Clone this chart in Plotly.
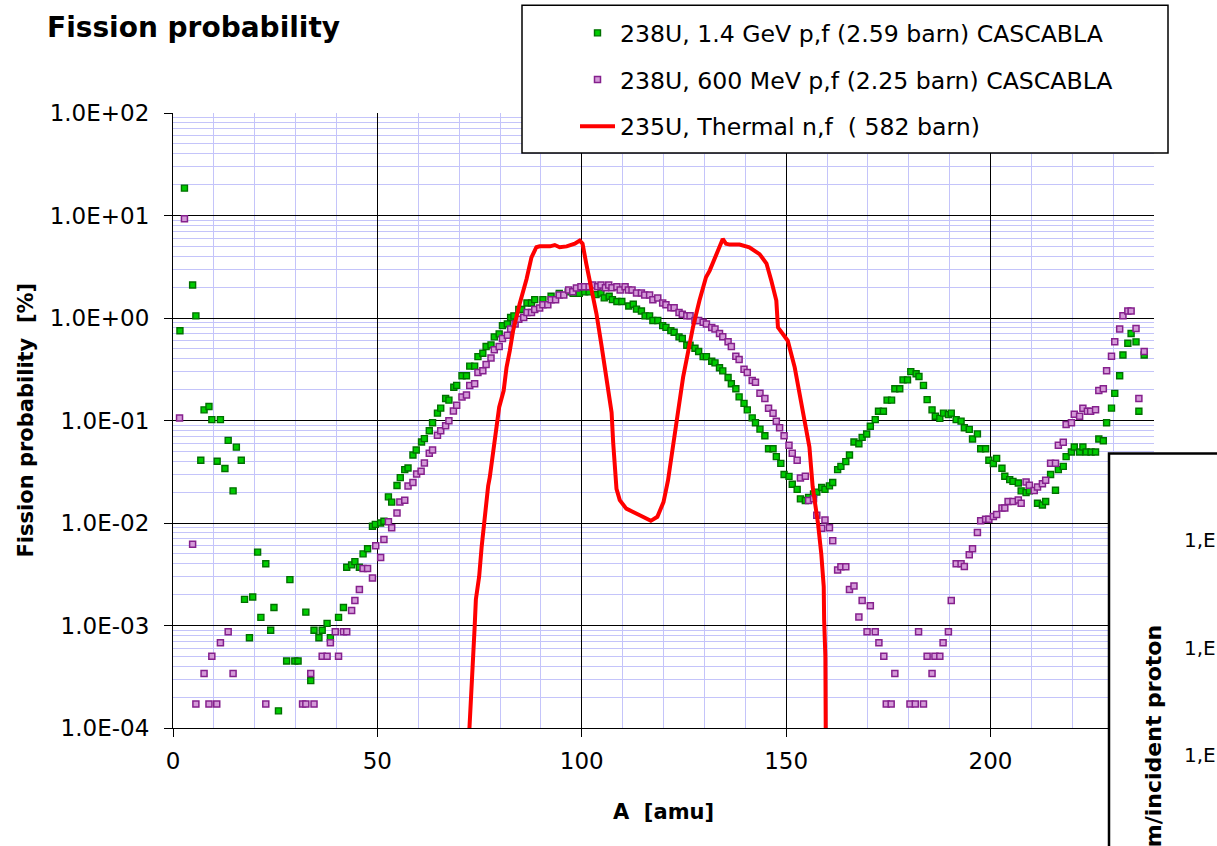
import plotly.graph_objects as go

# ---------------- data ----------------
a_14 = [1.7, 2.8, 4.8, 5.6, 6.8, 7.6, 8.8, 9.5, 10.8, 11.6, 12.7, 13.5, 14.7, 15.5, 16.7, 17.5, 18.7, 19.5,
        20.7, 21.5, 22.7, 23.9, 24.7, 25.8, 27.8, 28.6, 29.8, 30.6, 32.5, 33.7, 34.5, 35.7, 36.5, 37.7, 38.5,
        40.5, 41.7, 42.5, 43.7, 44.5, 45.6, 46.5, 47.6, 48.8, 49.5, 50.8, 51.6, 52.7, 53.5, 54.8, 55.6, 56.7,
        57.5, 58.7, 59.5, 60.8, 61.5, 62.7, 63.5, 64.7, 65.5, 66.7, 67.5, 68.7, 69.4, 70.7, 71.8, 72.6, 73.8,
        74.6, 75.8, 76.6, 77.8, 78.6, 79.8, 80.6, 81.8, 82.6, 83.4, 84.6, 85.3, 86.6, 87.7, 88.5, 90.5, 92.5,
        94.5, 96.7, 97.9, 99.4, 100.7, 101.8, 103.5, 104.7, 105.5, 106.7, 107.5, 108.6, 109.8, 111.5, 112.6,
        113.4, 114.6, 115.5, 116.6, 117.4, 118.6, 119.8, 120.6, 121.8, 122.6, 123.8, 124.6, 125.7, 126.5,
        127.7, 128.6, 129.7, 130.5, 131.8, 132.6, 133.7, 134.5, 135.8, 136.6, 137.7, 138.5, 139.7, 140.5,
        141.7, 142.5, 143.6, 144.8, 145.7, 146.8, 147.6, 148.7, 149.5, 150.7, 151.5, 152.7, 153.5, 154.7,
        155.5, 156.7, 157.5, 158.7, 159.5, 160.6, 161.4, 162.6, 163.4, 164.6, 165.5, 166.6, 167.8, 168.6,
        169.7, 170.6, 171.8, 172.6, 173.8, 174.7, 175.8, 176.6, 177.8, 178.6, 179.7, 180.5, 181.8, 182.5,
        183.6, 184.5, 185.7, 186.5, 187.6, 188.5, 189.7, 190.4, 191.6, 192.8, 193.6, 194.8, 195.6, 196.8,
        197.6, 198.8, 199.6, 200.7, 201.5, 202.8, 203.5, 204.7, 205.5, 206.8, 207.5, 208.7, 209.5, 211.5,
        212.7, 213.5, 214.7, 215.9, 216.6, 217.8, 218.5, 219.8, 220.5, 221.8, 222.6, 223.4, 224.6, 225.7,
        226.5, 227.6, 228.4, 229.6, 230.4, 231.6, 232.4, 233.6, 234.4, 235.6, 236.3, 237.6]
p_14 = [0.75, 18.5, 2.1, 1.05, 0.041, 0.127, 0.137, 0.102, 0.040, 0.102, 0.034, 0.064, 0.0206, 0.055, 0.041,
        0.0018, 0.00076, 0.0019, 0.0052, 0.0012, 0.0040, 0.0009, 0.0015, 0.000147, 0.00045, 0.0028, 0.00045,
        0.00045, 0.00135, 0.00029, 0.0009, 0.00076, 0.0009, 0.00105, 0.00076, 0.0012, 0.0015, 0.0037, 0.0039,
        0.0042, 0.0037, 0.0050, 0.0056, 0.0093, 0.0097, 0.0100, 0.0104, 0.018, 0.016, 0.0232, 0.0277, 0.0332,
        0.0344, 0.046, 0.0515, 0.0617, 0.0665, 0.0794, 0.095, 0.118, 0.132, 0.164, 0.158, 0.211, 0.22, 0.273,
        0.273, 0.339, 0.339, 0.42, 0.453, 0.527, 0.547, 0.655, 0.70, 0.843, 0.876, 1.01, 1.05, 1.21, 1.21,
        1.40, 1.40, 1.51, 1.51, 1.63, 1.74, 1.80, 1.74, 1.74, 1.80, 1.80, 1.69, 1.75, 1.57, 1.63, 1.51, 1.45,
        1.45, 1.31, 1.36, 1.22, 1.17, 1.05, 1.05, 0.944, 0.944, 0.843, 0.81, 0.753, 0.726, 0.655, 0.63, 0.542,
        0.542, 0.507, 0.471, 0.42, 0.42, 0.379, 0.365, 0.327, 0.305, 0.263, 0.228, 0.204, 0.17, 0.147, 0.127,
        0.106, 0.095, 0.0824, 0.071, 0.053, 0.053, 0.0444, 0.0382, 0.0297, 0.0285, 0.0239, 0.0213, 0.0172,
        0.0166, 0.0178, 0.0192, 0.020, 0.0222, 0.0213, 0.023, 0.0248, 0.0332, 0.0357, 0.0397, 0.046, 0.0617,
        0.0594, 0.0685, 0.0738, 0.088, 0.102, 0.123, 0.123, 0.158, 0.158, 0.204, 0.204, 0.249, 0.249, 0.30,
        0.286, 0.269, 0.22, 0.16, 0.127, 0.11, 0.105, 0.118, 0.114, 0.118, 0.102, 0.0986, 0.085, 0.082, 0.066,
        0.074, 0.053, 0.053, 0.041, 0.038, 0.0427, 0.0342, 0.0286, 0.0265, 0.0255, 0.0246, 0.0206, 0.0198,
        0.0206, 0.0156, 0.015, 0.0162, 0.0297, 0.0209, 0.0332, 0.0357, 0.0444, 0.0493, 0.0552, 0.0493, 0.0552,
        0.0493, 0.0493, 0.0493, 0.066, 0.0635, 0.095, 0.132, 0.184, 0.273, 0.436, 0.568, 0.705, 0.585, 0.123,
        0.436]

a_600 = [1.6, 2.8, 4.8, 5.6, 7.6, 8.8, 9.5, 10.7, 11.6, 13.5, 14.7, 22.7, 31.7, 32.5, 33.7, 34.5, 36.5, 37.7,
         38.5, 39.7, 40.5, 41.7, 42.5, 43.7, 44.5, 45.6, 46.5, 47.6, 48.8, 49.6, 50.8, 51.6, 52.7, 53.5, 54.8,
         55.5, 56.7, 57.5, 58.7, 59.6, 60.7, 61.5, 62.7, 63.5, 64.7, 65.5, 66.7, 67.5, 68.6, 69.4, 70.7, 71.8,
         72.6, 73.8, 74.6, 75.8, 76.6, 77.8, 78.6, 79.8, 80.6, 81.8, 82.6, 83.7, 84.6, 85.8, 86.6, 87.7, 88.5,
         89.7, 90.5, 91.7, 92.5, 93.6, 94.5, 95.6, 96.8, 97.8, 98.7, 99.8, 100.7, 101.8, 102.7, 103.9, 104.7,
         105.8, 106.6, 107.4, 108.6, 109.4, 110.6, 111.4, 112.3, 113.4, 114.6, 115.4, 116.6, 117.4, 118.6,
         119.8, 120.6, 121.8, 122.6, 123.8, 124.6, 125.7, 126.5, 127.7, 128.6, 129.7, 130.5, 131.8, 132.6,
         133.7, 134.5, 135.8, 136.6, 137.7, 138.5, 139.7, 140.5, 141.7, 142.5, 143.6, 144.8, 145.7, 146.8,
         147.6, 148.4, 149.5, 150.7, 151.5, 152.7, 153.5, 154.7, 155.5, 156.7, 157.5, 158.7, 159.5, 160.6,
         161.4, 162.6, 163.4, 164.6, 165.5, 166.6, 167.8, 168.6, 169.8, 170.6, 171.8, 172.7, 173.9, 174.5,
         175.7, 176.6, 180.3, 181.6, 182.4, 183.6, 184.5, 185.7, 186.4, 187.6, 188.4, 189.7, 190.4, 191.6,
         192.8, 193.6, 194.8, 195.6, 196.8, 197.6, 198.8, 199.6, 200.7, 201.5, 202.8, 203.5, 204.3, 205.5,
         206.8, 207.5, 208.7, 209.5, 210.7, 211.5, 212.7, 213.5, 214.7, 215.9, 216.6, 217.8, 218.5, 219.8,
         220.5, 221.8, 222.6, 223.7, 224.5, 225.7, 226.5, 227.6, 228.4, 229.6, 230.4, 231.6, 232.4, 233.6,
         234.4, 235.6, 236.3, 237.6]
p_600 = [0.106, 9.3, 0.0062, 0.000171, 0.00034, 0.000171, 0.0005, 0.000171, 0.00068, 0.00087, 0.00034,
         0.000171, 0.000171, 0.000171, 0.00034, 0.000171, 0.0005, 0.0005, 0.00068, 0.00087, 0.0005, 0.00087,
         0.00087, 0.0014, 0.00175, 0.00225, 0.0036, 0.0036, 0.0029, 0.006, 0.0046, 0.0069, 0.0103, 0.009,
         0.0125, 0.016, 0.0167, 0.023, 0.0248, 0.030, 0.032, 0.0385, 0.048, 0.0515, 0.0716, 0.0795, 0.089,
         0.0995, 0.124, 0.141, 0.17, 0.177, 0.22, 0.228, 0.294, 0.305, 0.352, 0.408, 0.489, 0.527, 0.63, 0.68,
         0.783, 0.876, 0.97, 1.01, 1.13, 1.13, 1.21, 1.25, 1.35, 1.35, 1.51, 1.51, 1.68, 1.68, 1.88, 1.80,
         1.96, 2.02, 2.02, 2.02, 2.10, 2.02, 2.10, 1.97, 2.10, 1.97, 2.02, 1.88, 2.02, 1.88, 1.88, 1.75, 1.75,
         1.68, 1.68, 1.51, 1.57, 1.40, 1.35, 1.26, 1.26, 1.13, 1.09, 1.05, 1.05, 0.944, 0.944, 0.91, 0.876,
         0.81, 0.78, 0.705, 0.655, 0.585, 0.527, 0.424, 0.394, 0.316, 0.294, 0.245, 0.236, 0.184, 0.164,
         0.132, 0.118, 0.0986, 0.085, 0.0711, 0.0573, 0.048, 0.041, 0.0275, 0.0286, 0.0166, 0.0172, 0.0119,
         0.0089, 0.0107, 0.009, 0.0067, 0.00347, 0.00374, 0.00374, 0.00225, 0.00243, 0.00121, 0.00175,
         0.00087, 0.00156, 0.00087, 0.00068, 0.0005, 0.000171, 0.000171, 0.00034, 0.000171, 0.000171,
         0.00087, 0.000171, 0.0005, 0.00034, 0.0005, 0.0005, 0.00068, 0.00087, 0.00175, 0.004, 0.004,
         0.00377, 0.0049, 0.0056, 0.0081, 0.0105, 0.0109, 0.0109, 0.0116, 0.0121, 0.014, 0.014, 0.0162,
         0.0162, 0.0168, 0.0156, 0.0251, 0.0233, 0.0208, 0.0225, 0.0242, 0.0261, 0.0382, 0.0382, 0.0573,
         0.0613, 0.0916, 0.095, 0.115, 0.11, 0.132, 0.123, 0.123, 0.127, 0.196, 0.204, 0.305, 0.424, 0.585,
         0.783, 1.05, 1.17, 1.17, 0.79, 0.164, 0.471]

a_235 = [72.4, 73.0, 73.3, 73.8, 74.1, 74.9, 75.5, 76.1, 76.4, 77.1, 77.5, 78.3, 79.1, 79.8, 80.9, 81.6, 82.4,
         83.2, 84.8, 86.5, 87.7, 88.9, 89.7, 92.2, 93.4, 94.6, 96.3, 98.3, 99.5, 100.2, 101.1, 102.4, 103.6,
         104.8, 106.1, 106.8, 107.3, 107.7, 108.1, 108.5, 109.3, 110.9, 114.2, 116.9, 118.5, 120.0, 121.1,
         122.3, 123.6, 124.8, 126.0, 127.2, 128.8, 130.4, 131.3, 132.9, 134.5, 135.3, 136.2, 138.6, 141.0,
         143.5, 145.2, 146.4, 147.6, 148.0, 149.2, 150.4, 152.1, 153.3, 154.9, 155.7, 156.5, 157.8, 158.6,
         159.2, 159.3, 159.6, 159.7]
p_235 = [8.0e-5, 2.0e-4, 4.0e-4, 9.7e-4, 1.8e-3, 3.0e-3, 5.8e-3, 1.06e-2, 1.4e-2, 2.3e-2, 2.8e-2, 4.75e-2,
         0.08, 0.135, 0.196, 0.33, 0.48, 0.75, 1.37, 2.4, 3.9, 4.9, 5.0, 5.0, 5.15, 4.9, 5.0, 5.3, 5.7, 5.3,
         3.4, 1.9, 1.1, 0.55, 0.25, 0.16, 0.12, 0.06, 0.035, 0.0215, 0.0167, 0.0138, 0.0119, 0.0105, 0.0115,
         0.016, 0.026, 0.059, 0.125, 0.265, 0.48, 0.81, 1.48, 2.5, 2.9, 4.2, 5.9, 5.3, 5.2, 5.2, 4.9, 4.2, 3.4,
         2.3, 1.48, 0.81, 0.70, 0.60, 0.33, 0.18, 0.086, 0.055, 0.0225, 0.0099, 0.005, 0.0024, 0.00113,
         0.0005, 8.0e-5]

names = ["238U, 1.4 GeV p,f (2.59 barn) CASCABLA",
         "238U, 600 MeV p,f (2.25 barn) CASCABLA",
         "235U, Thermal n,f  ( 582 barn)"]

y_tickvals = [1e-4, 1e-3, 1e-2, 1e-1, 1e0, 1e1, 1e2]
y_ticktext = ["1.0E-04", "1.0E-03", "1.0E-02", "1.0E-01", "1.0E+00", "1.0E+01", "1.0E+02"]
x_tickvals = [0, 50, 100, 150, 200]

# ---------------- figure ----------------
W, H = 1217, 846
L, R, T, B = 173, 1154, 112, 728  # plot area in px


def px(x):
    return (x - L) / (R - L)


def py(y):
    return (B - y) / (B - T)


FONT = "DejaVu Sans"
fig = go.Figure()
fig.add_trace(go.Scatter(x=a_14, y=p_14, mode="markers", name=names[0], legendgroup="g1",
                         marker=dict(symbol="square", size=6, color="#00cc00",
                                     line=dict(color="#007000", width=1.4))))
fig.add_trace(go.Scatter(x=a_600, y=p_600, mode="markers", name=names[1], legendgroup="g2",
                         marker=dict(symbol="square", size=6, color="#d49ad8",
                                     line=dict(color="#85208d", width=1.5))))
fig.add_trace(go.Scatter(x=a_235, y=p_235, mode="lines", name=names[2], legendgroup="g3",
                         line=dict(color="#ff0000", width=4)))

minor_y = [k * 10 ** d for d in range(-4, 2) for k in range(2, 10)]

fig.update_layout(
    width=W, height=H,
    margin=dict(l=L, r=W - R, t=T, b=H - B, pad=0),
    paper_bgcolor="white", plot_bgcolor="white",
    font=dict(family=FONT, color="black", size=21),
    showlegend=True,
    hovermode=False,
    title=dict(text="<b>Fission probability</b>", x=47 / W, xref="container", xanchor="left",
               y=1 - 27 / H, yref="container", yanchor="middle",
               font=dict(family=FONT, size=28, color="black")),
    xaxis=dict(range=[0, 240], tickmode="array", tickvals=x_tickvals,
               showgrid=True, gridcolor="black", gridwidth=1.2,
               minor=dict(dtick=10, tick0=0, showgrid=True, gridcolor="#c4c4fa", gridwidth=1.3),
               ticks="outside", ticklen=8, tickcolor="black", tickwidth=1.2,
               showline=True, linecolor="black", linewidth=1.2, zeroline=False,
               tickfont=dict(family=FONT, size=23), ticklabelstandoff=4),
    yaxis=dict(type="log", range=[-4, 2], tickmode="array", tickvals=y_tickvals, ticktext=y_ticktext,
               showgrid=True, gridcolor="black", gridwidth=1.2,
               minor=dict(tickmode="array", tickvals=minor_y, showgrid=True, gridcolor="#c4c4fa",
                          gridwidth=1.3),
               ticks="outside", ticklen=8, tickcolor="black", tickwidth=1.2,
               showline=True, linecolor="black", linewidth=1.2, zeroline=False,
               tickfont=dict(family=FONT, size=23), ticklabelstandoff=10),
    legend=dict(x=px(575), y=py(11), xanchor="left", yanchor="top", bgcolor="rgba(0,0,0,0)",
                borderwidth=0, font=dict(family=FONT, size=23.6, color="black"),
                itemwidth=35, tracegroupgap=13, traceorder="grouped"),
)

# legend frame (white box with black border)
fig.add_shape(type="rect", xref="paper", yref="paper", x0=px(522), x1=px(1168), y0=py(152), y1=py(4),
              line=dict(color="black", width=1.5), fillcolor="white", layer="above")
# overlapping panel of a neighbouring chart (bottom right)
fig.add_shape(type="rect", xref="paper", yref="paper", x0=px(1109), x1=px(1300), y0=py(900), y1=py(453),
              line=dict(color="black", width=2.5), fillcolor="white", layer="above")

ann = []
ann.append(dict(text="<b>Fission probability  [%]</b>", x=px(25), y=py(420), xref="paper", yref="paper",
                textangle=-90, showarrow=False, xanchor="center", yanchor="middle",
                font=dict(family=FONT, size=21)))
ann.append(dict(text="<b>A  [amu]</b>", x=px(663), y=py(812), xref="paper", yref="paper",
                showarrow=False, xanchor="center", yanchor="middle", font=dict(family=FONT, size=21)))
for yy in (540, 648, 755):
    ann.append(dict(text="1,E", x=px(1182), y=py(yy), xref="paper", yref="paper", showarrow=False,
                    xanchor="left", yanchor="middle", font=dict(family=FONT, size=20)))
ann.append(dict(text="<b>m/incident proton</b>", x=px(1153), y=py(623), xref="paper", yref="paper",
                textangle=-90, showarrow=False, xanchor="center", yanchor="top",
                font=dict(family=FONT, size=22)))
fig.update_layout(annotations=ann)

fig.write_html("out.html", config={"displayModeBar": False})
